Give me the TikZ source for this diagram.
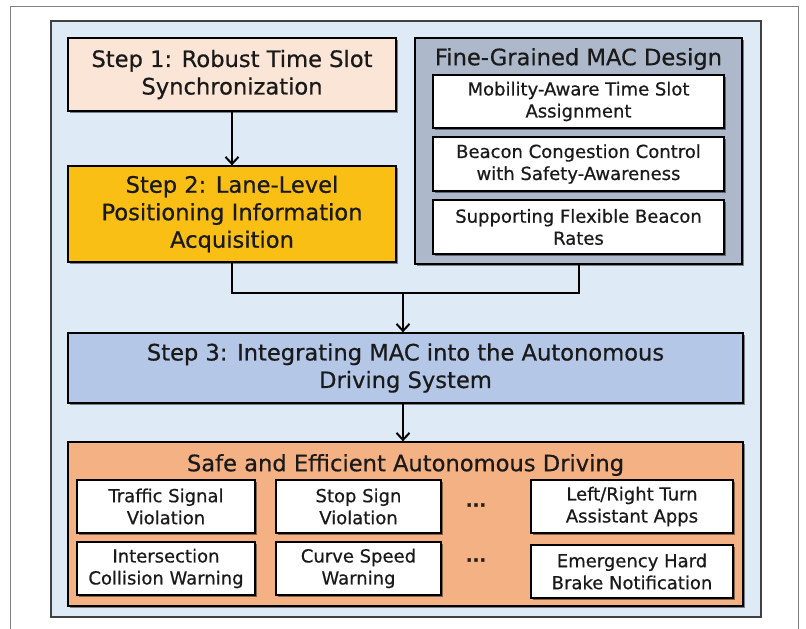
\documentclass[tikz,border=0pt]{standalone}
\usepackage{fontspec}
\setmainfont{DejaVu Sans}[FakeBold=0.6]
\usetikzlibrary{arrows.meta,shadows}
\definecolor{panelc}{HTML}{DEEBF7}
\definecolor{stepone}{HTML}{FBE5D6}
\definecolor{steptwo}{HTML}{F9BF14}
\definecolor{fgc}{HTML}{ADB9CA}
\definecolor{stepthree}{HTML}{B4C7E7}
\definecolor{safec}{HTML}{F4B183}
\definecolor{framec}{HTML}{808080}
\definecolor{inkc}{HTML}{1A1A1A}
\tikzset{
  box/.style={draw=black, line width=1.3pt, inner sep=0pt, align=center, text=inkc,
    drop shadow={shadow xshift=2pt, shadow yshift=-2pt, opacity=0.45, fill=black}},
  bigtext/.style={font=\fontsize{22.6}{27.5}\selectfont,
    execute at begin node={\rule{0pt}{22.5pt}}},
  smalltext/.style={font=\fontsize{18}{22}\selectfont,
    execute at begin node={\rule{0pt}{17.5pt}}},
  titletext/.style={font=\fontsize{22.6}{27.5}\selectfont, inner sep=0pt, text=inkc},
  conn/.style={line width=2pt, draw=black},
  arr/.style={conn, -{Straight Barb[length=7pt,width=13pt,line width=2pt]}},
}
\begin{document}
\begin{tikzpicture}[x=1pt,y=-1pt]
\useasboundingbox (0,0) rectangle (806,629);
\fill[white] (0,0) rectangle (806,629);
\draw[framec, line width=1pt] (10,6) rectangle (798,660);
% panel
\draw[fill=panelc, draw=black!75, line width=1.2pt] (51,21) rectangle (761,617);
% step 1 and 2
\node[box, fill=stepone, bigtext, minimum width=328pt, minimum height=73pt] (s1) at (232,74.5)
  {Step 1: Robust Time Slot\\Synchronization};
\node[box, fill=steptwo, bigtext, minimum width=328pt, minimum height=96pt] (s2) at (232,214)
  {Step 2: Lane-Level\\Positioning Information\\Acquisition};
% fine-grained
\node[box, fill=fgc, minimum width=327pt, minimum height=226pt] (fg) at (578.5,151) {};
\node[titletext] (fgt) at (578.5,59) {Fine-Grained MAC Design};
\node[box, fill=white, smalltext, minimum width=291pt, minimum height=53pt] (m1) at (578.5,101.5)
  {Mobility-Aware Time Slot\\Assignment};
\node[box, fill=white, smalltext, minimum width=291pt, minimum height=54pt] (m2) at (578.5,164)
  {Beacon Congestion Control\\with Safety-Awareness};
\node[box, fill=white, smalltext, minimum width=291pt, minimum height=54pt] (m3) at (578.5,227)
  {Supporting Flexible Beacon\\Rates};
% step 3
\node[box, fill=stepthree, bigtext, minimum width=675pt, minimum height=70pt] (s3) at (405.5,368)
  {Step 3: Integrating MAC into the Autonomous\\Driving System};
% safe
\node[box, fill=safec, minimum width=675pt, minimum height=164pt] (sf) at (405.5,524) {};
\node[titletext] (sft) at (405.5,465) {Safe and Efficient Autonomous Driving};
\node[box, fill=white, smalltext, minimum width=178pt, minimum height=53pt] (a1) at (166,506.5)
  {Traffic Signal\\Violation};
\node[box, fill=white, smalltext, minimum width=165pt, minimum height=53pt] (a2) at (358.5,506.5)
  {Stop Sign\\Violation};
\node[box, fill=white, smalltext, minimum width=202pt, minimum height=53pt] (a3) at (632,506.5)
  {Left/Right Turn\\Assistant Apps};
\node[box, fill=white, smalltext, minimum width=178pt, minimum height=53pt] (b1) at (166,568.5)
  {Intersection\\Collision Warning};
\node[box, fill=white, smalltext, minimum width=165pt, minimum height=53pt] (b2) at (358.5,568.5)
  {Curve Speed\\Warning};
\node[box, fill=white, smalltext, minimum width=202pt, minimum height=53pt] (b3) at (632,571.5)
  {Emergency Hard\\Brake Notification};
\node[font=\fontsize{18}{18}\bfseries\selectfont, inner sep=0pt, text=inkc] (d1) at (476,505) {...};
\node[font=\fontsize{18}{18}\bfseries\selectfont, inner sep=0pt, text=inkc] (d2) at (476,560) {...};
% connectors
\coordinate (j) at (403,293);
\draw[arr] (s1.south) -- (s2.north);
\draw[conn] (s2.south) |- (j) -| (fg.south);
\draw[arr] (j) -- (s3.north -| j);
\draw[arr] (s3.south -| j) -- (sf.north -| j);
\end{tikzpicture}
\end{document}
